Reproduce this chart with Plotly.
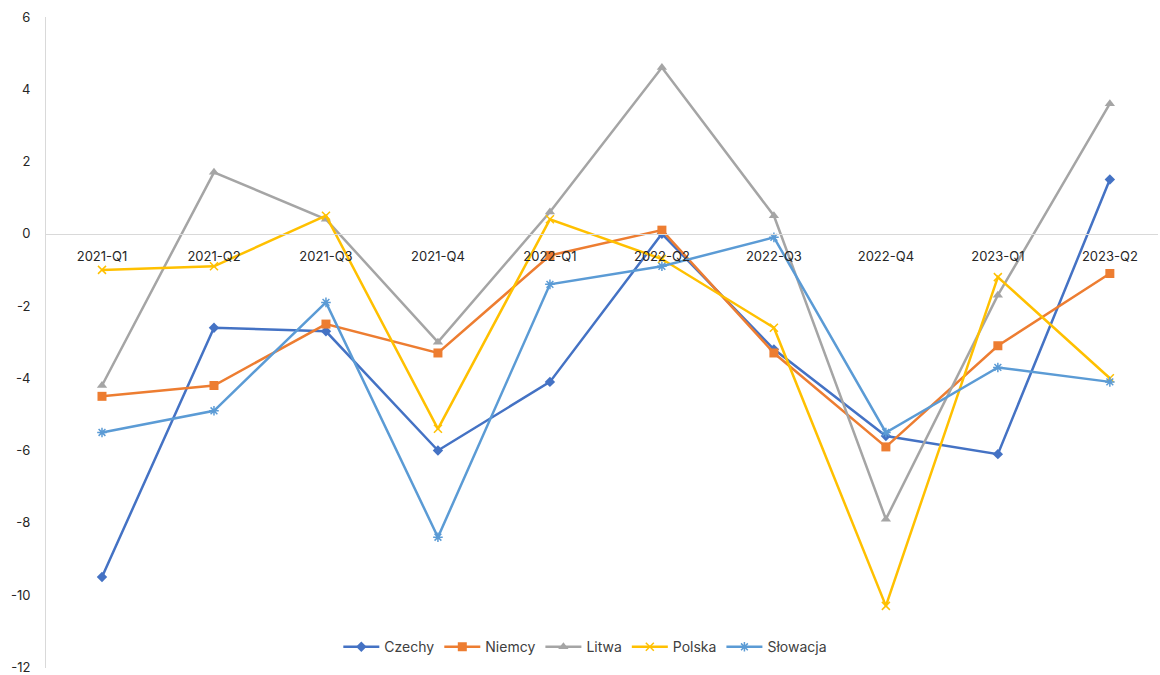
import plotly.graph_objects as go

# Quarterly values per country
quarters = ["2021-Q1", "2021-Q2", "2021-Q3", "2021-Q4", "2022-Q1",
            "2022-Q2", "2022-Q3", "2022-Q4", "2023-Q1", "2023-Q2"]
czechy = [-9.5, -2.6, -2.7, -6.0, -4.1, 0.0, -3.2, -5.6, -6.1, 1.5]
niemcy = [-4.5, -4.2, -2.5, -3.3, -0.6, 0.1, -3.3, -5.9, -3.1, -1.1]
litwa = [-4.2, 1.7, 0.4, -3.0, 0.6, 4.6, 0.5, -7.9, -1.7, 3.6]
polska = [-1.0, -0.9, 0.5, -5.4, 0.4, -0.7, -2.6, -10.3, -1.2, -4.0]
slowacja = [-5.5, -4.9, -1.9, -8.4, -1.4, -0.9, -0.1, -5.5, -3.7, -4.1]
y_ticks = [6, 4, 2, 0, -2, -4, -6, -8, -10, -12]

series = [
    ("Czechy", czechy, "#4472C4", "diamond", 8, 0),
    ("Niemcy", niemcy, "#ED7D31", "square", 9, 0),
    ("Litwa", litwa, "#A5A5A5", "triangle-up", 9, 0),
    ("Polska", polska, "#FFC000", "x-thin-open", 8, 1.5),
    ("Słowacja", slowacja, "#5B9BD5", "asterisk-open", 8, 1.5),
]

x_idx = list(range(len(quarters)))

fig = go.Figure()
for name, vals, color, symbol, size, mlw in series:
    fig.add_trace(go.Scatter(
        x=x_idx, y=vals, name=name, mode="lines+markers",
        line=dict(color=color, width=2.5),
        marker=dict(symbol=symbol, size=size, color=color,
                    line=dict(color=color, width=mlw)),
    ))

font_family = "Inter, Open Sans, sans-serif"

fig.update_layout(
    width=1160, height=675,
    margin=dict(l=46, r=2, t=17, b=7),
    paper_bgcolor="white", plot_bgcolor="white",
    font=dict(family=font_family, size=13, color="#262626"),
    showlegend=True,
    legend=dict(orientation="h", x=0.485, xanchor="center",
                y=0.032, yanchor="middle",
                font=dict(size=14, color="#404040"),
                entrywidth=0, itemwidth=36,
                bgcolor="rgba(0,0,0,0)"),
    xaxis=dict(
        tickmode="array", tickvals=x_idx, ticktext=quarters,
        range=[-0.5, 9.43],
        anchor="free", position=2/3, automargin=False,
        showline=True, linecolor="#D9D9D9", linewidth=1,
        showgrid=False, zeroline=False, ticks="",
        ticklabelstandoff=10,
        tickfont=dict(size=13, color="#262626"),
    ),
    yaxis=dict(
        range=[-12.02, 6], tickmode="array", tickvals=y_ticks,
        ticktext=[str(v) for v in y_ticks], automargin=False,
        showline=True, linecolor="#D9D9D9", linewidth=1,
        showgrid=False, zeroline=False, ticks="",
        ticklabelstandoff=12,
        tickfont=dict(size=13, color="#262626"),
    ),
)

fig.write_html("out.html")
